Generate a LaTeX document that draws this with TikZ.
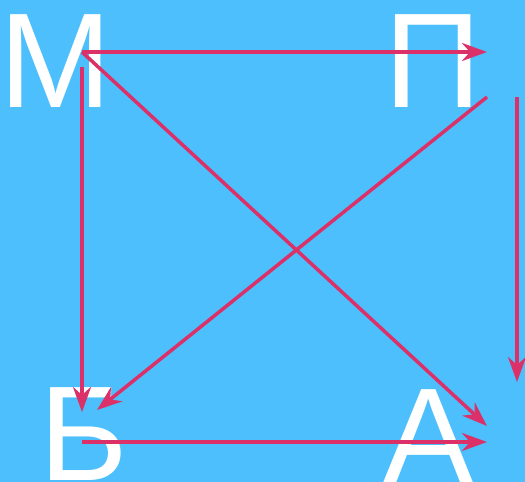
\documentclass[tikz,border=0pt]{standalone}
\usepackage{fontspec}
\setmainfont{Liberation Sans}
\usetikzlibrary{arrows.meta}
\definecolor{bg}{HTML}{4CBFFC}
\definecolor{arr}{HTML}{DC3068}
\begin{document}
\begin{tikzpicture}[x=1pt,y=-1pt,
  letter/.style={text=white,inner sep=0pt,anchor=base,font=\fontsize{135}{135}\selectfont},
  link/.style={draw=arr,line width=3.5pt,-{Stealth[length=25pt,width=18pt,inset=8pt]}}]
\fill[bg] (0,0) rectangle (525,482);
\useasboundingbox (0,0) rectangle (525,482);
\node[letter] (M) at (56,107) {М};
\node[letter] (P) at (433,107) {П};
\node[letter] (B) at (84,480) {Б};
\node[letter] (A) at (429,482) {А};
\coordinate (m1) at (82,52);
\coordinate (m2) at (82,67);
\coordinate (p1) at (487,52);
\coordinate (p2) at (487,97);
\coordinate (p3) at (517,97);
\coordinate (a1) at (487,426);
\coordinate (a2) at (487,442);
\coordinate (a3) at (517,382);
\coordinate (b1) at (82,412);
\coordinate (b2) at (97,410);
\coordinate (b3) at (82,442);
\draw[link] (m1) -- (p1);
\draw[link] (m1) -- (a1);
\draw[link] (m2) -- (b1);
\draw[link] (p2) -- (b2);
\draw[link] (p3) -- (a3);
\draw[link] (b3) -- (a2);
\end{tikzpicture}
\end{document}
